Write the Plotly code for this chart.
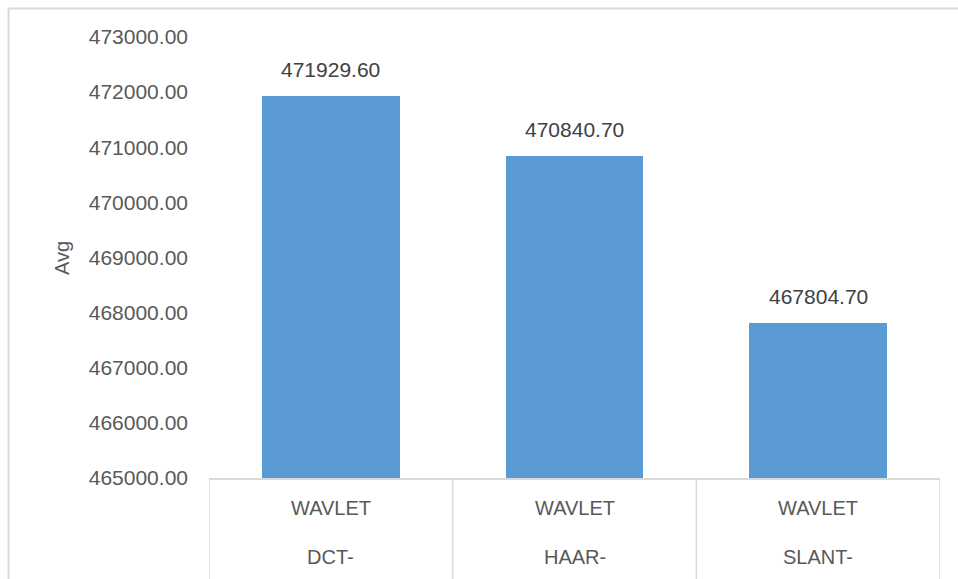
import plotly.graph_objects as go

# Average values per transform
methods = ["DCT-", "HAAR-", "SLANT-"]
suffix = ["WAVLET", "WAVLET", "WAVLET"]
avg_values = [471929.60, 470840.70, 467804.70]
y_ticks = [465000, 466000, 467000, 468000, 469000, 470000, 471000, 472000, 473000]

W, H = 958, 579
ML, MR, MT, MB = 209, 18, 37, 101
PW, PH = W - ML - MR, H - MT - MB

def px_x(px):
    return (px - ML) / PW

def px_y(py):
    return (H - MB - py) / PH

FONT = "Liberation Sans"
GREY = "#595959"
LINE = "#d9d9d9"

fig = go.Figure()
fig.add_trace(go.Bar(
    x=list(range(len(methods))),
    y=avg_values,
    marker=dict(color="#5b9bd5", line=dict(width=0)),
    width=0.566,
    hoverinfo="skip",
))

annotations = []
# data labels above bars
for i, v in enumerate(avg_values):
    annotations.append(dict(
        x=i, y=v, xref="x", yref="y", text=f"{v:.2f}",
        showarrow=False, yanchor="bottom", yshift=13,
        font=dict(family=FONT, size=21, color="#404040"),
    ))
# two-level category labels
for i, (top, bottom) in enumerate(zip(suffix, methods)):
    annotations.append(dict(
        x=i, y=px_y(508), xref="x", yref="paper", text=top,
        showarrow=False, yanchor="middle",
        font=dict(family=FONT, size=20, color=GREY),
    ))
    annotations.append(dict(
        x=i, y=px_y(557), xref="x", yref="paper", text=bottom,
        showarrow=False, yanchor="middle",
        font=dict(family=FONT, size=20, color=GREY),
    ))
# axis title
annotations.append(dict(
    x=px_x(62), y=px_y(258), xref="paper", yref="paper", text="Avg",
    textangle=-90, showarrow=False, xanchor="center", yanchor="middle",
    font=dict(family=FONT, size=20, color=GREY),
))

shapes = []
# category dividers below the axis
for b in [-0.5, 0.5, 1.5, 2.5]:
    shapes.append(dict(
        type="line", xref="x", yref="paper", x0=b, x1=b,
        y0=0, y1=px_y(H), line=dict(color=LINE, width=1.5),
    ))
# outer chart frame (left and top edges)
shapes.append(dict(type="line", xref="paper", yref="paper",
                   x0=px_x(8.5), x1=px_x(8.5), y0=px_y(8), y1=px_y(H),
                   line=dict(color=LINE, width=2)))
shapes.append(dict(type="line", xref="paper", yref="paper",
                   x0=px_x(8.5), x1=px_x(W), y0=px_y(8.5), y1=px_y(8.5),
                   line=dict(color=LINE, width=2)))

fig.update_layout(
    width=W, height=H,
    margin=dict(l=ML, r=MR, t=MT, b=MB),
    paper_bgcolor="white", plot_bgcolor="white",
    showlegend=False,
    bargap=0,
    xaxis=dict(
        range=[-0.5, 2.5], showticklabels=False, ticks="",
        showgrid=False, zeroline=False,
        showline=True, linecolor=LINE, linewidth=1.5,
    ),
    yaxis=dict(
        range=[465000, 473000], tickvals=y_ticks,
        ticktext=[f"{t:.2f}" for t in y_ticks],
        showgrid=False, zeroline=False, showline=False, ticks="",
        ticklabelstandoff=20,
        tickfont=dict(family=FONT, size=21, color=GREY),
    ),
    annotations=annotations,
    shapes=shapes,
)

fig.write_html("out.html")
